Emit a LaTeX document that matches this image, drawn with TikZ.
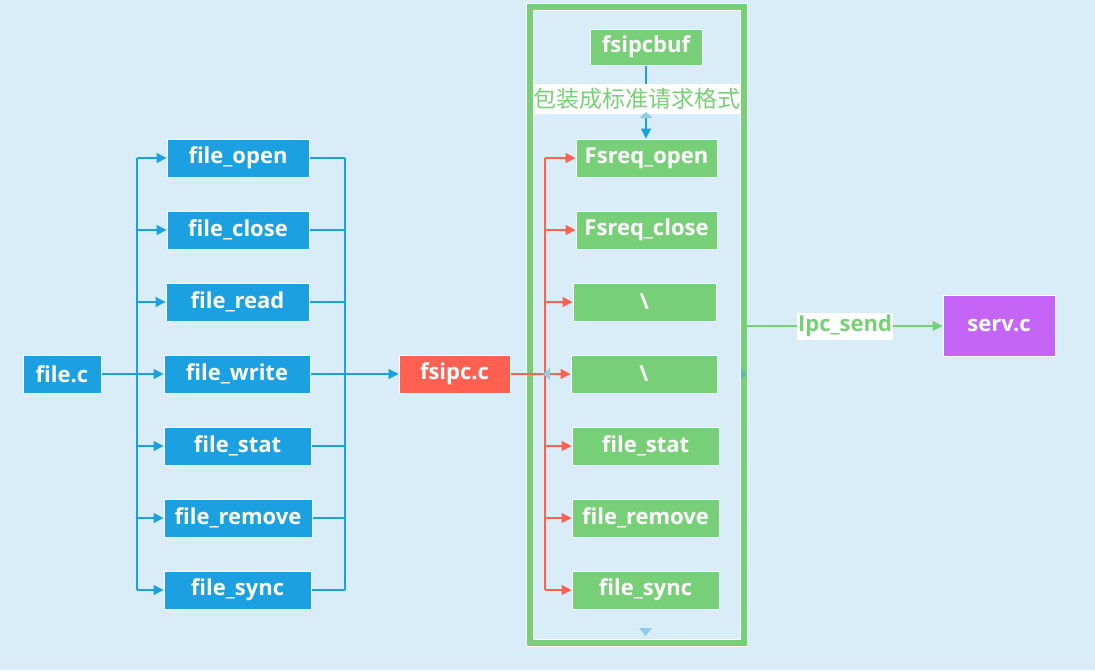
\documentclass[tikz,border=0pt]{standalone}
\usepackage{fontspec}
\setmainfont{Open Sans}
\newfontfamily\cjk{Noto Sans CJK SC}
\usetikzlibrary{arrows.meta}
\definecolor{bg}{HTML}{D8EDF8}
\definecolor{bblue}{HTML}{1BA1E2}
\definecolor{rred}{HTML}{FF6050}
\definecolor{ggreen}{HTML}{77D077}
\definecolor{ppurple}{HTML}{C465F8}
\definecolor{lblue}{HTML}{90CCEA}
\definecolor{lteal}{HTML}{5DBFA8}
\tikzset{
  box/.style={draw=white, line width=1pt, text=white, font=\fontsize{22}{26}\selectfont\bfseries, inner sep=0pt, minimum height=38pt},
  bluebox/.style={box, fill=bblue},
  greenbox/.style={box, fill=ggreen},
  bline/.style={draw=bblue, line width=1.3pt},
  rline/.style={draw=rred, line width=1.3pt},
  gline/.style={draw=ggreen, line width=1.3pt},
  barrow/.style={bline, -{Triangle[length=10pt,width=10pt]}},
  rarrow/.style={rline, -{Triangle[length=10pt,width=10pt]}},
  garrow/.style={gline, -{Triangle[length=10pt,width=10pt]}},
}
\begin{document}
\begin{tikzpicture}[x=1pt,y=-1pt]
\fill[bg] (0,0) rectangle (1095,670);
\useasboundingbox (0,0) rectangle (1095,670);
% frame
\draw[white, line width=8pt] (530,7) rectangle (744,643);
\draw[ggreen, line width=6pt] (530,7) rectangle (744,643);
% left nodes
\node[bluebox, minimum width=78pt] (filec) at (62,374) {file.c};
\node[bluebox, minimum width=142pt] (lopen) at (238,158) {file\_open};
\node[bluebox, minimum width=142pt] (lclose) at (238,230) {file\_close};
\node[bluebox, minimum width=143pt] (lread) at (237.5,302) {file\_read};
\node[bluebox, minimum width=146pt] (lwrite) at (237,374) {file\_write};
\node[bluebox, minimum width=147pt] (lstat) at (237.5,446) {file\_stat};
\node[bluebox, minimum width=148pt] (lremove) at (238,518) {file\_remove};
\node[bluebox, minimum width=147pt] (lsync) at (237.5,590) {file\_sync};
\node[box, fill=rred, minimum width=111pt] (fsipc) at (454.5,374) {fsipc.c};
% green nodes
\node[greenbox, minimum width=112pt, minimum height=36pt] (buf) at (646,47) {fsipcbuf};
\node[greenbox, minimum width=141pt] (gopen) at (646.5,158) {Fsreq\_open};
\node[greenbox, minimum width=141pt] (gclose) at (646.5,230) {Fsreq\_close};
\node[greenbox, minimum width=143pt] (gbs1) at (644.5,302) {\textbackslash};
\node[greenbox, minimum width=146pt] (gbs2) at (644,374) {\textbackslash};
\node[greenbox, minimum width=147pt] (gstat) at (645.5,446) {file\_stat};
\node[greenbox, minimum width=147pt] (gremove) at (645.5,518) {file\_remove};
\node[greenbox, minimum width=147pt] (gsync) at (645.5,590) {file\_sync};
\node[box, fill=ppurple, minimum width=112pt, minimum height=61pt] (serv) at (999,325.5) {serv.c};
% labels
\node[fill=white, inner sep=0pt, minimum width=208pt, minimum height=30pt, text=ggreen, font=\cjk\fontsize{23}{25}\selectfont] (wrap) at (637,99) {包装成标准请求格式};
\node[fill=white, inner sep=0pt, minimum width=96pt, minimum height=27pt, text=ggreen, font=\fontsize{22}{26}\selectfont\bfseries] (ipc) at (845,326) {Ipc\_send};
% left bus
\coordinate (lbt) at (137,158);
\coordinate (lbb) at (137,590);
\draw[bline] (lbt) -- (lbb);
\draw[barrow] (filec.east) -- (lwrite.west);
\foreach \n in {lopen,lclose,lread,lstat,lremove,lsync}
  \draw[barrow] (\n.west -| lbt) -- (\n.west);
% right bus
\coordinate (rbt) at (345,158);
\coordinate (rbb) at (345,590);
\draw[bline] (rbt) -- (rbb);
\foreach \n in {lopen,lclose,lread,lwrite,lstat,lremove,lsync}
  \draw[bline] (\n.east) -- (\n.east -| rbt);
\draw[barrow] (fsipc.west -| rbt) -- (fsipc.west);
% red bus
\coordinate (gbt) at (545,158);
\coordinate (gbb) at (545,590);
\draw[rline] (gbt) -- (gbb);
\draw[rline] (fsipc.east) -- (fsipc.east -| gbt);
\foreach \n in {gopen,gclose,gbs1,gbs2,gstat,gremove,gsync}
  \draw[rarrow] (\n.west -| gbt) -- (\n.west);
% top connector
\draw[bline] (buf.south) -- (wrap.north -| buf.south);
\draw[barrow] (wrap.south -| buf.south) -- (gopen.north -| buf.south);
\fill[lblue] (639.5,118) -- (652.5,118) -- (646,112) -- cycle;
% stray triangles
\fill[lblue] (543,374) -- (550,368) -- (550,380) -- cycle;
\fill[lteal] (747,374) -- (741,368) -- (741,380) -- cycle;
\fill[lblue] (639,628) -- (652,628) -- (645.5,636) -- cycle;
% ipc
\coordinate (fr) at (747,326);
\draw[gline] (fr) -- (ipc.west);
\draw[garrow] (ipc.east) -- (ipc.east -| serv.west);
\end{tikzpicture}
\end{document}
